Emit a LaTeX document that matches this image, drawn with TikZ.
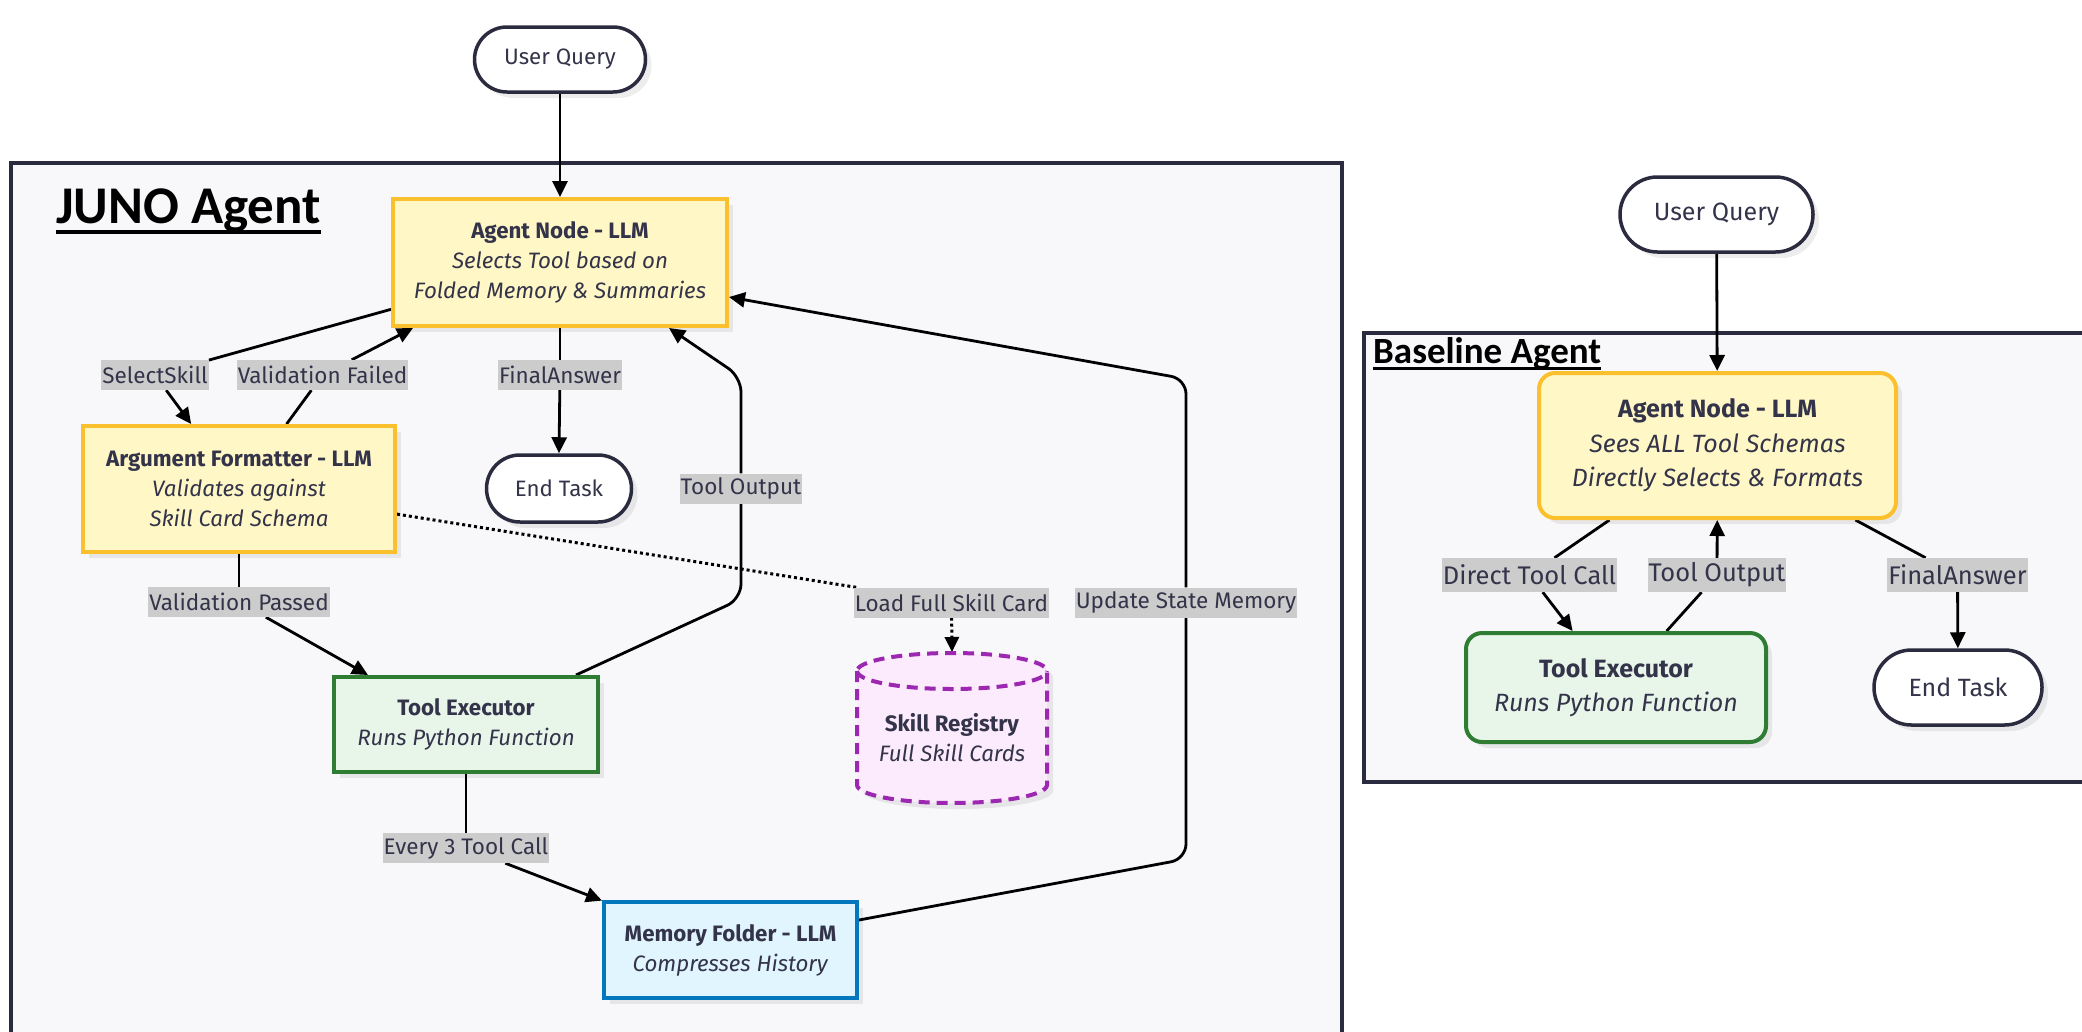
\documentclass[tikz,border=0pt]{standalone}
\usepackage{fontspec}
\setmainfont{Fira Sans}
\newfontfamily\titlefont{Carlito}
\usetikzlibrary{arrows.meta,shadows,calc}
\definecolor{clusterbg}{HTML}{F8F8FA}
\definecolor{clusterline}{HTML}{2B2B40}
\definecolor{txt}{HTML}{33334A}
\definecolor{yfill}{HTML}{FFF8C6}
\definecolor{yline}{HTML}{FBC02D}
\definecolor{gfill}{HTML}{E8F5E9}
\definecolor{gline}{HTML}{2E7D32}
\definecolor{bfill}{HTML}{E1F5FE}
\definecolor{bline}{HTML}{0277BD}
\definecolor{pfill}{HTML}{FCEBFC}
\definecolor{pline}{HTML}{9C27B0}
\definecolor{lblfill}{HTML}{CCCCCC}
\pgfdeclarelayer{bg}
\pgfdeclarelayer{edges}
\pgfsetlayers{bg,edges,main}
\tikzset{
  nd/.style={inner sep=0pt, align=center, text=txt,
    drop shadow={shadow xshift=6pt, shadow yshift=-6pt, fill=black, opacity=0.07}},
  ftA/.style={font=\fontsize{22.3}{30}\selectfont},
  ftB/.style={font=\fontsize{25}{34.5}\selectfont},
  stad/.style={nd, draw=clusterline, fill=white, line width=3.5pt},
  ybox/.style={nd, draw=yline, fill=yfill, line width=4pt},
  gbox/.style={nd, draw=gline, fill=gfill, line width=4pt},
  bbox/.style={nd, draw=bline, fill=bfill, line width=4pt},
  lblA/.style={fill=lblfill, text=txt, inner xsep=1pt, inner ysep=0pt, minimum height=30pt,
    font=\fontsize{22.5}{22.5}\selectfont},
  lblB/.style={fill=lblfill, text=txt, inner xsep=1pt, inner ysep=0pt, minimum height=34pt,
    font=\fontsize{25.5}{25.5}\selectfont},
  edge/.style={line width=2.8pt, black},
  arr/.style={edge, -{Triangle[length=16pt,width=15pt]}},
  dotline/.style={line width=3pt, black, dash pattern=on 3pt off 3pt},
  dotarr/.style={dotline, -{Triangle[length=15pt,width=14pt]}},
  cluster/.style={draw=clusterline, fill=clusterbg, line width=3.5pt},
  cyl/.style={draw=pline, line width=4pt, dash pattern=on 11pt off 7pt},
}
\begin{document}
\begin{tikzpicture}[x=1pt,y=-1pt]
\useasboundingbox (0,0) rectangle (2082,1031);

% ---------- Left: JUNO agent nodes ----------
\node[stad, ftA, minimum width=171pt, minimum height=65pt, rounded corners=32.5pt] (uq1) at (560,59.5) {User Query};
\node[ybox, ftA, minimum width=334pt, minimum height=127pt] (agent1) at (560,262.5)
  {\textbf{Agent Node - LLM}\\\textit{Selects Tool based on}\\\textit{Folded Memory \& Summaries}};
\node[ybox, ftA, minimum width=312pt, minimum height=126pt] (argf) at (239,489)
  {\textbf{Argument Formatter - LLM}\\\textit{Validates against}\\\textit{Skill Card Schema}};
\node[stad, ftA, minimum width=145pt, minimum height=67pt, rounded corners=33.5pt] (end1) at (559,488.5) {End Task};
\node[gbox, ftA, minimum width=264pt, minimum height=95pt] (tool1) at (466,724.5)
  {\textbf{Tool Executor}\\\textit{Runs Python Function}};
\node[bbox, ftA, minimum width=253pt, minimum height=96pt] (mem) at (730.5,950)
  {\textbf{Memory Folder - LLM}\\\textit{Compresses History}};

% Skill registry cylinder
\fill[black, opacity=0.07, shift={(6pt,-6pt)}] (857,671) -- (857,785)
  arc[start angle=180, end angle=360, x radius=95pt, y radius=18pt] -- (1047,671)
  arc[start angle=0, end angle=180, x radius=95pt, y radius=18pt] -- cycle;
\path[fill=pfill] (857,671) -- (857,785)
  arc[start angle=180, end angle=360, x radius=95pt, y radius=18pt] -- (1047,671)
  arc[start angle=0, end angle=180, x radius=95pt, y radius=18pt] -- cycle;
\draw[cyl] (857,671) -- (857,785)
  arc[start angle=180, end angle=360, x radius=95pt, y radius=18pt] -- (1047,671)
  arc[start angle=0, end angle=180, x radius=95pt, y radius=18pt] -- cycle;
\draw[cyl] (857,671) arc[start angle=180, end angle=360, x radius=95pt, y radius=18pt];
\node[align=center, text=txt, ftA, inner sep=0pt] (reg) at (952,738)
  {\textbf{Skill Registry}\\\textit{Full Skill Cards}};
\coordinate (regtop) at (952,652);

% labels left
\node[lblA] (ss) at (155,375) {SelectSkill};
\node[lblA] (vf) at (322.5,375) {Validation Failed};
\node[lblA] (fa1) at (560,375) {FinalAnswer};
\node[lblA] (to1) at (741,488.5) {Tool Output};
\node[lblA] (vp) at (239,602) {Validation Passed};
\node[lblA] (lf) at (951.5,602.5) {Load Full Skill Card};
\node[lblA] (us) at (1186,602.5) {Update State Memory};
\node[lblA] (e3) at (466,848) {Every 3 Tool Call};

% ---------- Right: Baseline agent nodes ----------
\node[stad, ftB, minimum width=193pt, minimum height=75pt, rounded corners=37.5pt] (uq2) at (1716.5,214.5) {User Query};
\node[ybox, ftB, minimum width=357pt, minimum height=145pt, rounded corners=16pt] (agent2) at (1717.5,445.5)
  {\textbf{Agent Node - LLM}\\\textit{Sees ALL Tool Schemas}\\\textit{Directly Selects \& Formats}};
\node[gbox, ftB, minimum width=300pt, minimum height=109pt, rounded corners=16pt] (tool2) at (1616,687.5)
  {\textbf{Tool Executor}\\\textit{Runs Python Function}};
\node[stad, ftB, minimum width=168pt, minimum height=75pt, rounded corners=37.5pt] (end2) at (1958,687.5) {End Task};
\node[lblB] (dtc) at (1529.5,575) {Direct Tool Call};
\node[lblB] (to2) at (1717,575) {Tool Output};
\node[lblB] (fa2) at (1957.5,575) {FinalAnswer};

% titles
\node[font=\titlefont\bfseries\fontsize{53}{53}\selectfont, anchor=base west, inner sep=0pt] (t1) at (56,223) {JUNO Agent};
\node[font=\titlefont\bfseries\fontsize{37}{37}\selectfont, anchor=base west, inner sep=0pt] (t2) at (1373,363) {Baseline Agent};

% ---------- background ----------
\begin{pgfonlayer}{bg}
\fill[white] (0,0) rectangle (2082,1031);
\draw[cluster] (11,1045) -- (11,163) -- (1342,163) -- (1342,1045);
\draw[cluster] (2100,333) -- (1364,333) -- (1364,782) -- (2100,782);
\draw[line width=3.5pt] ([yshift=-9pt]t1.base west) -- ([yshift=-9pt]t1.base east);
\draw[line width=2.8pt] ([yshift=-5.5pt]t2.base west) -- ([yshift=-5.5pt]t2.base east);
\end{pgfonlayer}

% ---------- edges ----------
\begin{pgfonlayer}{edges}
\draw[arr] (uq1) -- (agent1);
\draw[edge] (agent1) -- (ss);
\draw[arr] (ss) -- (argf);
\draw[edge] (argf) -- (vf);
\draw[arr] (vf) -- ([xshift=22pt]agent1.south west);
\draw[edge] (agent1) -- (fa1);
\draw[arr] (fa1) -- (end1.north);
\draw[edge, rounded corners=15pt] ([xshift=-24pt]tool1.north east) -- (741,599) -- (to1.south);
\draw[arr, rounded corners=15pt] (to1.north) -- (741,377) -- ([xshift=-60pt]agent1.south east);
\draw[dotline] (argf) -- (lf);
\draw[dotarr] (lf) -- (regtop);
\draw[edge] (argf) -- (vp);
\draw[arr] (vp) -- ([xshift=36pt]tool1.north west);
\draw[edge] (tool1) -- (e3);
\draw[arr] (e3) -- (mem);
\draw[edge, rounded corners=15pt] ([yshift=-20pt]mem.north east) -- (1186,859) -- (us.south);
\draw[arr, rounded corners=15pt] (us.north) -- (1186,379) -- ([yshift=31pt]agent1.south east);
% right
\draw[arr] (uq2) -- (agent2);
\draw[edge] (agent2) -- (dtc);
\draw[arr] (dtc) -- (tool2);
\draw[edge] (tool2) -- (to2);
\draw[arr] (to2) -- (agent2);
\draw[edge] (agent2) -- (fa2);
\draw[arr] (fa2) -- (end2);
\end{pgfonlayer}
\end{tikzpicture}
\end{document}
